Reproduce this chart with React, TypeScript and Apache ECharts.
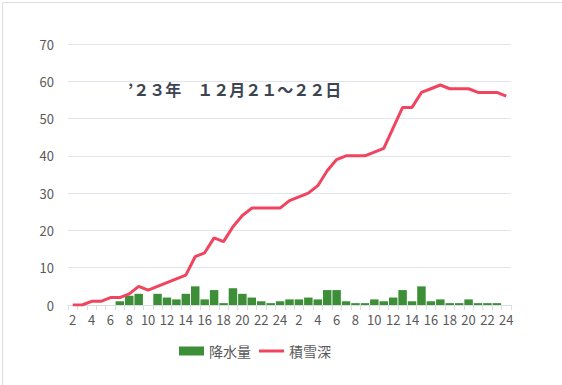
import React, { useEffect, useRef } from "react";
import * as echarts from "echarts";

const day1Hours = ["2","3","4","5","6","7","8","9","10","11","12","13","14","15","16","17","18","19","20","21","22","23","24"];
const day2Hours = ["1","2","3","4","5","6","7","8","9","10","11","12","13","14","15","16","17","18","19","20","21","22","23","24"];
const categories = [...day1Hours, ...day2Hours];

const precipitation = [0,0,0,0,0,1,2.5,3,0,3,2,1.5,3,5,1.5,4,0.5,4.5,3,2,1,0.5,1,1.5,1.5,2,1.5,4,4,1,0.5,0.5,1.5,1,2,4,1,5,1,1.5,0.5,0.5,1.5,0.5,0.5,0.5,0];
const snowDepth = [0,0,1,1,2,2,3,5,4,5,6,7,8,13,14,18,17,21,24,26,26,26,26,28,29,30,32,36,39,40,40,40,41,42,47.5,53,53,57,58,59,58,58,58,57,57,57,56];

const yTicks = { min: 0, max: 70, interval: 10 };
const title = "’２３年　１２月２１～２２日";
const seriesNames = ["降水量", "積雪深"];

const FONT = "'Noto Sans CJK JP', 'Noto Sans', sans-serif";

export default function App() {
  const ref = useRef<HTMLDivElement>(null);
  useEffect(() => {
    if (!ref.current) return;
    const chart = echarts.init(ref.current, undefined, { renderer: "svg" });
    chart.setOption({
      animation: false,
      backgroundColor: "#ffffff",
      textStyle: { fontFamily: FONT },
      grid: { left: 68, right: 51, top: 44, bottom: 80, containLabel: false },
      graphic: [
        {
          type: "rect",
          left: 0,
          top: 0,
          shape: { width: 561, height: 384 },
          style: { fill: "none", stroke: "#d9dde4", lineWidth: 1 },
          silent: true,
        },
        {
          type: "text",
          left: 128,
          top: 81,
          style: {
            text: title,
            fontSize: 16,
            fontWeight: "bold",
            fill: "#3d4552",
            fontFamily: FONT,
          },
        },
      ],
      legend: {
        left: 174,
        top: 339,
        itemGap: 8,
        itemWidth: 25,
        itemHeight: 9,
        textStyle: { color: "#595959", fontSize: 14, fontFamily: FONT },
        data: [
          { name: seriesNames[0], icon: "rect" },
          { name: seriesNames[1], icon: "path://M0,0 H25 V3 H0 Z" },
        ],
      },
      xAxis: {
        type: "category",
        data: categories,
        boundaryGap: true,
        axisLine: { lineStyle: { color: "#d9dde4", width: 1 } },
        axisTick: { show: true, interval: 0, length: 5, lineStyle: { color: "#d9dde4" } },
        axisLabel: {
          interval: 1,
          color: "#595959",
          fontSize: 13,
          margin: 8,
          fontFamily: FONT,
        },
      },
      yAxis: {
        type: "value",
        min: yTicks.min,
        max: yTicks.max,
        interval: yTicks.interval,
        axisLine: { show: false },
        axisTick: { show: false },
        splitLine: { lineStyle: { color: "#e1e4ea", width: 1 } },
        axisLabel: { color: "#595959", fontSize: 13, margin: 14, fontFamily: FONT },
      },
      series: [
        {
          name: seriesNames[0],
          type: "bar",
          data: precipitation,
          barCategoryGap: "10%",
          itemStyle: { color: "#3c8f36" },
        },
        {
          name: seriesNames[1],
          type: "line",
          data: snowDepth,
          symbol: "none",
          lineStyle: { color: "#f0445f", width: 3 },
          itemStyle: { color: "#f0445f" },
          z: 3,
        },
      ],
    });
    return () => chart.dispose();
  }, []);
  return (
    <div
      ref={ref}
      style={{ position: "absolute", left: 0, top: 0, width: 562, height: 385 }}
    />
  );
}
